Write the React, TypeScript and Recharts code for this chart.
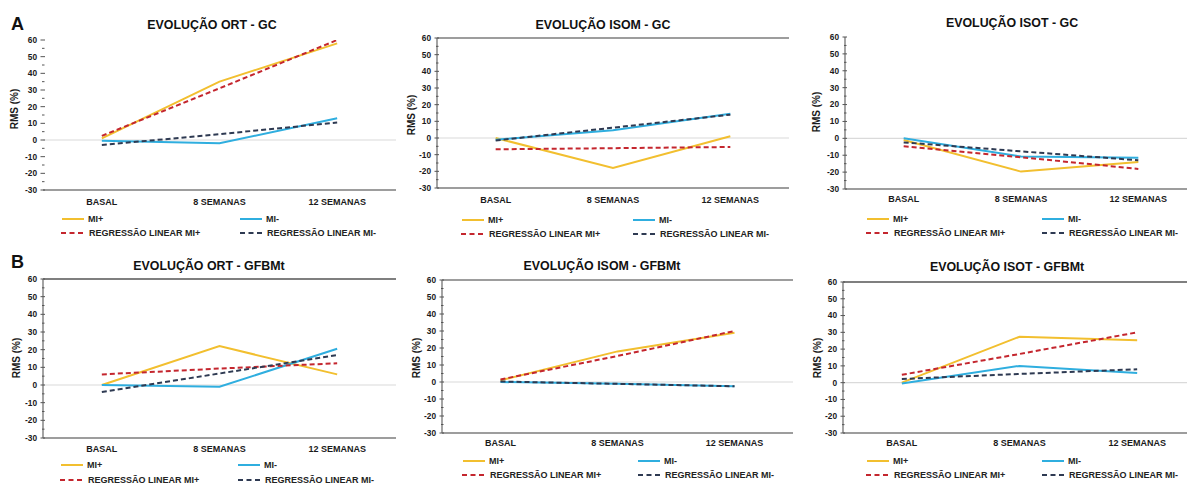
import React from 'react';
import { LineChart, Line, XAxis, YAxis, ReferenceLine, CartesianGrid } from 'recharts';

// ---- data ----
const categories = ['BASAL', '8 SEMANAS', '12 SEMANAS'];
const yTicks = [-30, -25, -20, -15, -10, -5, 0, 5, 10, 15, 20, 25, 30, 35, 40, 45, 50, 55, 60];
const seriesNames = ['MI+', 'MI-', 'REGRESSÃO LINEAR MI+', 'REGRESSÃO LINEAR MI-'];
const panelTitles = [
  'EVOLUÇÃO ORT - GC',
  'EVOLUÇÃO ISOM - GC',
  'EVOLUÇÃO ISOT - GC',
  'EVOLUÇÃO ORT - GFBMt',
  'EVOLUÇÃO ISOM - GFBMt',
  'EVOLUÇÃO ISOT - GFBMt',
];

// A: GC
const ortGcMiPlus = [1, 35, 58];
const ortGcMiMinus = [-0.5, -2, 13];
const ortGcRegPlus = [2.5, 31, 60];
const ortGcRegMinus = [-3, 3.5, 10.5];

const isomGcMiPlus = [0, -18, 1];
const isomGcMiMinus = [-1, 4.6, 14.5];
const isomGcRegPlus = [-6.8, -6.1, -5.4];
const isomGcRegMinus = [-1.5, 6.2, 14];

const isotGcMiPlus = [-1, -19.7, -14];
const isotGcMiMinus = [0, -10.8, -11.5];
const isotGcRegPlus = [-4.7, -11.2, -18.1];
const isotGcRegMinus = [-2.4, -7.7, -13];

// B: GFBMt
const ortGfMiPlus = [0, 22, 6];
const ortGfMiMinus = [0, -1, 20.5];
const ortGfRegPlus = [6, 9.3, 12.3];
const ortGfRegMinus = [-4, 6.5, 17];

const isomGfMiPlus = [1, 18, 29];
const isomGfMiMinus = [0, -1, -2.5];
const isomGfRegPlus = [1.5, 15.3, 30];
const isomGfRegMinus = [0.3, -1.1, -2.5];

const isotGfMiPlus = [0, 27.4, 25.3];
const isotGfMiMinus = [-0.5, 10, 5.7];
const isotGfRegPlus = [4.7, 17.1, 30];
const isotGfRegMinus = [2.2, 5.2, 8];

// ---- styling / layout ----
const FONT = '"Liberation Sans", Arial, Helvetica, sans-serif';
const C_YEL = '#F2BF2F';
const C_BLU = '#2FAEDF';
const C_RED = '#C4262E';
const C_DRK = '#2E3A52';
const AXIS = '#7d7d7d';
const YW = 40;
const MT = 6;
const MR = 6;
const XH = 26;

type Panel = {
  title: string;
  series: number[][];
  axisX: number; plotRight: number; plotTop: number; plotBottom: number;
  tickMargin: number;
  box: 'none' | 'top' | 'full';
  leftLine: boolean;
  titleX: number; titleY: number;
  labelX: number; labelY: number;
  col1: number; col2: number; row1: number; row2: number;
};

const panels: Panel[] = [
  { title: panelTitles[0], series: [ortGcMiPlus, ortGcMiMinus, ortGcRegPlus, ortGcRegMinus],
    axisX: 43, plotRight: 396, plotTop: 40, plotBottom: 190, tickMargin: 8.5, box: 'none', leftLine: false,
    titleX: 212, titleY: 29, labelX: 14, labelY: 109, col1: 62, col2: 240, row1: 219, row2: 233 },
  { title: panelTitles[1], series: [isomGcMiPlus, isomGcMiMinus, isomGcRegPlus, isomGcRegMinus],
    axisX: 437, plotRight: 789, plotTop: 38, plotBottom: 188, tickMargin: 8.8, box: 'full', leftLine: true,
    titleX: 603, titleY: 29, labelX: 411, labelY: 115, col1: 462, col2: 633, row1: 220, row2: 234 },
  { title: panelTitles[2], series: [isotGcMiPlus, isotGcMiMinus, isotGcRegPlus, isotGcRegMinus],
    axisX: 845, plotRight: 1197, plotTop: 37, plotBottom: 189, tickMargin: 7, box: 'none', leftLine: true,
    titleX: 1012, titleY: 27, labelX: 816, labelY: 112, col1: 867, col2: 1042, row1: 219, row2: 233 },
  { title: panelTitles[3], series: [ortGfMiPlus, ortGfMiMinus, ortGfRegPlus, ortGfRegMinus],
    axisX: 43, plotRight: 396, plotTop: 279, plotBottom: 438, tickMargin: 7.8, box: 'top', leftLine: true,
    titleX: 209, titleY: 270, labelX: 16, labelY: 358, col1: 61, col2: 238, row1: 465, row2: 480 },
  { title: panelTitles[4], series: [isomGfMiPlus, isomGfMiMinus, isomGfRegPlus, isomGfRegMinus],
    axisX: 442, plotRight: 793, plotTop: 280, plotBottom: 433, tickMargin: 6.8, box: 'full', leftLine: true,
    titleX: 602, titleY: 270, labelX: 416, labelY: 358, col1: 463, col2: 638, row1: 461, row2: 475 },
  { title: panelTitles[5], series: [isotGfMiPlus, isotGfMiMinus, isotGfRegPlus, isotGfRegMinus],
    axisX: 843, plotRight: 1196, plotTop: 282, plotBottom: 433, tickMargin: 6.8, box: 'top', leftLine: true,
    titleX: 1007, titleY: 271, labelX: 817, labelY: 358, col1: 867, col2: 1042, row1: 461, row2: 475 },
];

const YTick = (props: any) => {
  const { x, y, payload } = props;
  const v = payload.value as number;
  const major = v % 10 === 0;
  return (
    <g>
      <line x1={x - (major ? 2.5 : 1)} x2={x + (major ? 2 : 1.5)} y1={y} y2={y} stroke="#555" strokeWidth={1} />
      {major && (
        <text x={x - 6} y={y} dy="0.35em" textAnchor="end" fontSize={8.3} fontWeight={700} fill="#1a1a1a" fontFamily={FONT}>
          {v}
        </text>
      )}
    </g>
  );
};

function PanelChart({ p }: { p: Panel }) {
  const rows = categories.map((c, i) => ({
    cat: c,
    miPlus: p.series[0][i],
    miMinus: p.series[1][i],
    regPlus: p.series[2][i],
    regMinus: p.series[3][i],
  }));
  const width = p.plotRight - p.axisX + YW + MR;
  const height = p.plotBottom - p.plotTop + MT + XH;
  const pad = (p.plotRight - p.axisX) / (categories.length * 2);
  return (
    <div style={{ position: 'absolute', left: p.axisX - YW, top: p.plotTop - MT }}>
      <LineChart width={width} height={height} data={rows} margin={{ top: MT, right: MR, left: 0, bottom: 0 }}>
        <CartesianGrid vertical={false} horizontalValues={[0]} stroke="#dadada" strokeWidth={1.2} />
        <XAxis
          dataKey="cat"
          interval={0}
          tickLine={false}
          tickSize={0}
          tickMargin={p.tickMargin}
          height={XH}
          padding={{ left: pad, right: pad }}
          axisLine={{ stroke: AXIS, strokeWidth: 1.6 }}
          tick={{ fontSize: 9, fontWeight: 700, fill: '#1a1a1a', fontFamily: FONT }}
        />
        <YAxis
          type="number"
          domain={[-30, 60]}
          ticks={yTicks}
          interval={0}
          width={YW}
          tickSize={0}
          tickMargin={0}
          tickLine={false}
          allowDataOverflow
          axisLine={p.leftLine ? { stroke: AXIS, strokeWidth: 1.4 } : false}
          tick={(tp: any) => <YTick {...tp} />}
        />
        {p.box === 'full' && (
          <YAxis yAxisId="right" orientation="right" type="number" domain={[-30, 60]} width={0}
            tick={false} tickLine={false} axisLine={{ stroke: AXIS, strokeWidth: 1.4 }} />
        )}
        {p.box !== 'none' && <ReferenceLine y={60} stroke={p.box === 'full' ? AXIS : '#555'} strokeWidth={1.4} />}
        <Line dataKey="miPlus" name={seriesNames[0]} stroke={C_YEL} strokeWidth={2} dot={false} isAnimationActive={false} />
        <Line dataKey="miMinus" name={seriesNames[1]} stroke={C_BLU} strokeWidth={2} dot={false} isAnimationActive={false} />
        <Line dataKey="regPlus" name={seriesNames[2]} stroke={C_RED} strokeWidth={2} strokeDasharray="5 3" dot={false} isAnimationActive={false} />
        <Line dataKey="regMinus" name={seriesNames[3]} stroke={C_DRK} strokeWidth={2} strokeDasharray="5 3" dot={false} isAnimationActive={false} />
      </LineChart>
    </div>
  );
}

function Overlay() {
  const L = 22;
  const fs = 9;
  return (
    <svg width={1187} height={484} style={{ position: 'absolute', left: 0, top: 0, pointerEvents: 'none' }} fontFamily={FONT}>
      <text x={11} y={30} fontSize={18} fontWeight={700} fill="#111">A</text>
      <text x={11} y={268} fontSize={18} fontWeight={700} fill="#111">B</text>
      {panels.map((p, i) => (
        <g key={i}>
          <text x={p.titleX} y={p.titleY} textAnchor="middle" fontSize={12.4} fontWeight={700} fill="#111">{p.title}</text>
          <text x={p.labelX} y={p.labelY} textAnchor="middle" dy="0.35em" fontSize={10} fontWeight={700} fill="#1a1a1a"
            transform={`rotate(-90 ${p.labelX} ${p.labelY})`}>RMS  (%)</text>
          <line x1={p.col1} x2={p.col1 + L} y1={p.row1} y2={p.row1} stroke={C_YEL} strokeWidth={2} />
          <text x={p.col1 + L + 4} y={p.row1} dy="0.35em" fontSize={fs} fontWeight={700} fill="#222">{seriesNames[0]}</text>
          <line x1={p.col2} x2={p.col2 + L} y1={p.row1} y2={p.row1} stroke={C_BLU} strokeWidth={2} />
          <text x={p.col2 + L + 4} y={p.row1} dy="0.35em" fontSize={fs} fontWeight={700} fill="#222">{seriesNames[1]}</text>
          <line x1={p.col1 - 1} x2={p.col1 + L - 1} y1={p.row2} y2={p.row2} stroke={C_RED} strokeWidth={2} strokeDasharray="5 3.5" />
          <text x={p.col1 + L + 5} y={p.row2} dy="0.35em" fontSize={fs} fontWeight={700} fill="#222">{seriesNames[2]}</text>
          <line x1={p.col2} x2={p.col2 + L} y1={p.row2} y2={p.row2} stroke={C_DRK} strokeWidth={2} strokeDasharray="5 3.5" />
          <text x={p.col2 + L + 5} y={p.row2} dy="0.35em" fontSize={fs} fontWeight={700} fill="#222">{seriesNames[3]}</text>
        </g>
      ))}
    </svg>
  );
}

export default function App() {
  return (
    <div style={{ position: 'absolute', left: 0, top: 0, width: 1187, height: 484, overflow: 'hidden', background: '#fff' }}>
      {panels.map((p, i) => (
        <PanelChart key={i} p={p} />
      ))}
      <Overlay />
    </div>
  );
}
